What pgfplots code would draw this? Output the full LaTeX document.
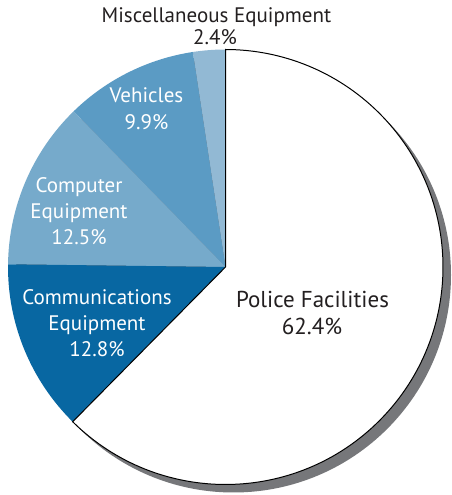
\documentclass[border=0pt]{standalone}
\usepackage{pgfplots}
\pgfplotsset{compat=1.18}
\usepackage{pgfplotstable}
\usepackage{fontspec}
\setmainfont{PT Sans}
\definecolor{cMisc}{HTML}{92B9D4}
\definecolor{cVeh}{HTML}{5B9BC4}
\definecolor{cComp}{HTML}{76AACB}
\definecolor{cComm}{HTML}{0867A2}
\definecolor{cPol}{HTML}{FFFFFF}
\definecolor{cShadow}{HTML}{76777A}
\definecolor{cText}{HTML}{231F20}

\pgfplotstableread[col sep=comma]{
name,value
Miscellaneous Equipment,2.4
Vehicles,9.9
Computer Equipment,12.5
Communications Equipment,12.8
Police Facilities,62.4
}\piedata

% cumulative angles (counter-clockwise from the top)
\pgfplotstablegetelem{0}{value}\of\piedata\let\vA\pgfplotsretval
\pgfplotstablegetelem{1}{value}\of\piedata\let\vB\pgfplotsretval
\pgfplotstablegetelem{2}{value}\of\piedata\let\vC\pgfplotsretval
\pgfplotstablegetelem{3}{value}\of\piedata\let\vD\pgfplotsretval
\pgfplotstablegetelem{4}{value}\of\piedata\let\vE\pgfplotsretval
\pgfmathsetmacro\aA{90}
\pgfmathsetmacro\aB{\aA+3.6*\vA}
\pgfmathsetmacro\aC{\aB+3.6*\vB}
\pgfmathsetmacro\aD{\aC+3.6*\vC}
\pgfmathsetmacro\aE{\aD+3.6*\vD}
\pgfmathsetmacro\aF{\aE+3.6*\vE}

\newcommand\R{217.5pt}

\begin{document}
\begin{tikzpicture}[x=1pt,y=1pt]
\useasboundingbox (0,0) rectangle (451,495);
\begin{axis}[
  at={(0,0)}, anchor=south west,
  x=1pt, y=1pt,
  xmin=0, xmax=451, ymin=0, ymax=495,
  hide axis, clip=false,
]
% shadow
\fill[cShadow] (axis cs:233.5,220) circle[radius=\R];
% slices
\fill[cMisc] (axis cs:225.5,228) -- ++(\aA:\R) arc[start angle=\aA, end angle=\aB, radius=\R] -- cycle;
\fill[cVeh]  (axis cs:225.5,228) -- ++(\aB:\R) arc[start angle=\aB, end angle=\aC, radius=\R] -- cycle;
\fill[cComp] (axis cs:225.5,228) -- ++(\aC:\R) arc[start angle=\aC, end angle=\aD, radius=\R] -- cycle;
\fill[cComm] (axis cs:225.5,228) -- ++(\aD:\R) arc[start angle=\aD, end angle=\aE, radius=\R] -- cycle;
\filldraw[fill=cPol, draw=black, line width=1pt, line join=miter]
  (axis cs:225.5,228) -- ++(\aE:\R) arc[start angle=\aE, end angle=\aF, radius=\R] -- cycle;
% labels
\begin{scope}[every node/.style={anchor=base, inner sep=0pt, font=\fontsize{21}{25}\selectfont}]
\node[text=cText] at (axis cs:216.5,472) {Miscellaneous Equipment};
\node[text=cText] at (axis cs:215,450) {2.4\%};
\node[text=white] at (axis cs:146.5,392) {Vehicles};
\node[text=white] at (axis cs:146.5,365) {9.9\%};
\node[text=white] at (axis cs:79,302) {Computer};
\node[text=white] at (axis cs:79,276) {Equipment};
\node[text=white] at (axis cs:79,250) {12.5\%};
\node[text=white] at (axis cs:97,190) {Communications};
\node[text=white] at (axis cs:97,164) {Equipment};
\node[text=white] at (axis cs:97,138) {12.8\%};
\node[text=cText, font=\fontsize{23}{27}\selectfont] at (axis cs:312.5,187.5) {Police Facilities};
\node[text=cText, font=\fontsize{23}{27}\selectfont] at (axis cs:312,160) {62.4\%};
\end{scope}
\end{axis}
\end{tikzpicture}
\end{document}
